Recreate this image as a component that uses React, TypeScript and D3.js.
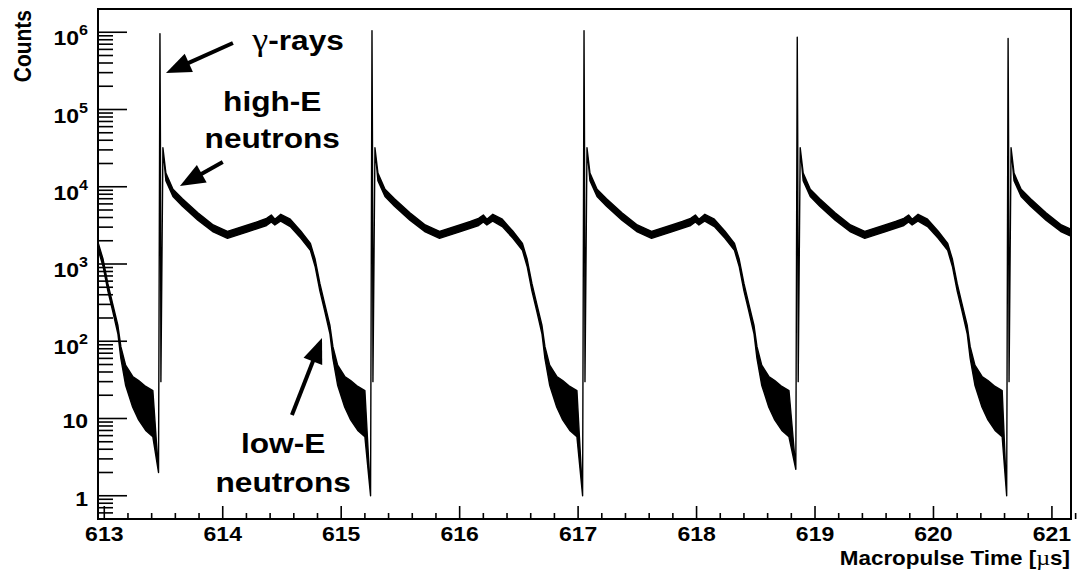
import { useEffect, useRef } from "react";
import * as d3 from "d3";

// axis ticks
const xTickValues = [613, 614, 615, 616, 617, 618, 619, 620, 621];
const yDecades = [1, 10, 100, 1e3, 1e4, 1e5, 1e6];
const yExponents = ["", "", "2", "3", "4", "5", "6"];

// gamma flash of every macropulse bunch (the first one is off the left edge)
const flashTimes = [611.68, 613.47, 615.26, 617.05, 618.85, 620.63];
const flashPeaks = [1.0e6, 9.6e5, 1.05e6, 1.05e6, 8.6e5, 8.3e5];
const preFlashDips = [2, 2, 1, 1, 2.2, 1];

// spikes right after the flash (dt in us after the flash)
const spikeDt = [0.004, 0.008, 0.025];
const spikeCounts = [4.0e4, 30, 3.2e4];

const profileDt = [0.05, 0.11, 0.19, 0.32, 0.45, 0.57, 0.74, 0.83, 0.9, 0.94, 0.97, 1.02, 1.1, 1.19, 1.27, 1.31, 1.35, 1.39, 1.435, 1.46, 1.5, 1.56, 1.61, 1.67, 1.73];
const profileLow = [1.2e4, 7.5e3, 5.6e3, 3.7e3, 2.6e3, 2.15e3, 2.6e3, 2.9e3, 3.15e3, 3.5e3, 3.2e3, 3.6e3, 3.05e3, 2.15e3, 1.5e3, 930, 450, 250, 125, 60, 27, 14, 9.6, 7, 5.8];
const profileHigh = [1.5e4, 9.3e3, 7.0e3, 4.6e3, 3.2e3, 2.65e3, 3.2e3, 3.55e3, 3.9e3, 4.3e3, 3.8e3, 4.4e3, 3.8e3, 2.65e3, 1.85e3, 1.15e3, 560, 310, 160, 85, 49, 35, 31, 26, 23];

// annotations, in data coordinates
const arrowTails = [[614.086, 7.26e5], [614.0, 2.09e4], [614.584, 11.1]];
const arrowTips = [[613.521, 2.97e5], [613.639, 1.02e4], [614.838, 110]];
const noteTexts = ["-rays", "high-E", "neutrons", "low-E", "neutrons"];
const noteGreek = ["γ", "", "", "", ""];
const noteAnchors = [[614.249, 5.9e5], [614.418, 9.6e4], [614.418, 3.18e4], [614.51, 3.57], [614.51, 1.12]];
const noteAlign = ["start", "middle", "middle", "middle", "middle"];

const FONT = "'Liberation Sans', Arial, Helvetica, sans-serif";
const SERIF = "'Liberation Serif', 'Times New Roman', serif";
const SX = 1.15; // the picture is a bit wider than tall

export default function App() {
  const ref = useRef<SVGSVGElement>(null);

  useEffect(() => {
    document.body.style.margin = "0";
    const svg = d3.select(ref.current);
    svg.selectAll("*").remove();

    const left = 98, right = 1071, top = 9, bottom = 519;
    const x = d3.scaleLinear().domain([612.947, 621.161]).range([left, right]);
    const y = d3.scaleLog().domain([0.5, 2e6]).range([bottom, top]);

    // build the histogram outline
    const pts: { t: number; lo: number; hi: number }[] = [];
    flashTimes.forEach((t0, i) => {
      pts.push({ t: t0 - 0.012, lo: preFlashDips[i], hi: preFlashDips[i] });
      pts.push({ t: t0, lo: flashPeaks[i], hi: flashPeaks[i] });
      spikeDt.forEach((d, j) => pts.push({ t: t0 + d, lo: spikeCounts[j], hi: spikeCounts[j] }));
      profileDt.forEach((d, j) => pts.push({ t: t0 + d, lo: profileLow[j], hi: profileHigh[j] }));
    });

    svg.append("defs").append("clipPath").attr("id", "plotClip")
      .append("rect").attr("x", left).attr("y", top).attr("width", right - left).attr("height", bottom - top);

    const area = d3.area<{ t: number; lo: number; hi: number }>()
      .x((d) => x(d.t))
      .y0((d) => y(d.lo))
      .y1((d) => y(d.hi));

    svg.append("path")
      .attr("clip-path", "url(#plotClip)")
      .attr("d", area(pts))
      .attr("fill", "#000")
      .attr("stroke", "#000")
      .attr("stroke-width", 1.4)
      .attr("stroke-linejoin", "round");

    // frame
    svg.append("rect")
      .attr("x", left).attr("y", top).attr("width", right - left).attr("height", bottom - top)
      .attr("fill", "none").attr("stroke", "#000").attr("stroke-width", 2);

    // y ticks
    const yMinor: number[] = [];
    for (let n = -1; n <= 6; n++) {
      for (let k = 2; k <= 9; k++) {
        const v = k * Math.pow(10, n);
        if (v > 0.5 && v < 2e6) yMinor.push(v);
      }
    }
    svg.append("g").selectAll("line").data(yMinor).enter().append("line")
      .attr("x1", left).attr("x2", left + 15)
      .attr("y1", (d) => y(d)).attr("y2", (d) => y(d))
      .attr("stroke", "#000").attr("stroke-width", 1.6);
    svg.append("g").selectAll("line").data(yDecades).enter().append("line")
      .attr("x1", left).attr("x2", left + 29)
      .attr("y1", (d) => y(d)).attr("y2", (d) => y(d))
      .attr("stroke", "#000").attr("stroke-width", 1.6);

    // y labels
    yDecades.forEach((v, i) => {
      const exp = yExponents[i];
      const g = svg.append("g")
        .attr("transform", `translate(88,${y(v) + (exp ? 13 : 10)}) scale(${SX},1)`);
      const t = g.append("text")
        .attr("text-anchor", "end")
        .attr("font-family", FONT).attr("font-weight", "bold").attr("font-size", 20);
      if (exp) {
        t.append("tspan").text("10");
        t.append("tspan").attr("dy", -10).attr("font-size", 14).text(exp);
      } else {
        t.text(v === 1 ? "1" : "10");
      }
    });

    // x ticks
    const xMinor = d3.range(613, 621.2, 0.2).filter((d) => Math.abs(d - Math.round(d)) > 0.01);
    svg.append("g").selectAll("line").data(xMinor).enter().append("line")
      .attr("x1", (d) => x(d)).attr("x2", (d) => x(d))
      .attr("y1", bottom).attr("y2", bottom - 6)
      .attr("stroke", "#000").attr("stroke-width", 1.6);
    svg.append("g").selectAll("line").data(xTickValues).enter().append("line")
      .attr("x1", (d) => x(d)).attr("x2", (d) => x(d))
      .attr("y1", bottom).attr("y2", bottom - 13)
      .attr("stroke", "#000").attr("stroke-width", 1.6);

    xTickValues.forEach((v) => {
      svg.append("g")
        .attr("transform", `translate(${x(v)},541) scale(${SX},1)`)
        .append("text")
        .attr("text-anchor", "middle")
        .attr("font-family", FONT).attr("font-weight", "bold").attr("font-size", 20)
        .text(String(v));
    });

    // axis titles
    const xt = svg.append("g")
      .attr("transform", `translate(1070,565) scale(${SX},1)`)
      .append("text")
      .attr("text-anchor", "end")
      .attr("font-family", FONT).attr("font-weight", "bold").attr("font-size", 19.5);
    xt.append("tspan").text("Macropulse Time [");
    xt.append("tspan").attr("font-family", SERIF).attr("font-weight", "normal").attr("font-size", 21).text("µ");
    xt.append("tspan").text("s]");

    svg.append("g")
      .attr("transform", `translate(31,10) scale(${SX},1) rotate(-90)`)
      .append("text")
      .attr("text-anchor", "end")
      .attr("font-family", FONT).attr("font-weight", "bold").attr("font-size", 21)
      .text("Counts");

    // arrows
    arrowTails.forEach((tail, i) => {
      const tip = arrowTips[i];
      const x1 = x(tail[0]), y1 = y(tail[1]);
      const x2 = x(tip[0]), y2 = y(tip[1]);
      const len = Math.hypot(x2 - x1, y2 - y1);
      const ux = (x2 - x1) / len, uy = (y2 - y1) / len;
      const headL = 25, headW = 10;
      const bx = x2 - ux * headL, by = y2 - uy * headL;
      svg.append("line")
        .attr("x1", x1).attr("y1", y1).attr("x2", bx + ux * 2).attr("y2", by + uy * 2)
        .attr("stroke", "#000").attr("stroke-width", 4);
      svg.append("path")
        .attr("d", `M${x2},${y2}L${bx - uy * headW},${by + ux * headW}L${bx + uy * headW},${by - ux * headW}Z`)
        .attr("fill", "#000");
    });

    // annotation texts
    noteTexts.forEach((txt, i) => {
      const a = noteAnchors[i];
      const t = svg.append("g")
        .attr("transform", `translate(${x(a[0])},${y(a[1])}) scale(1.13,1)`)
        .append("text")
        .attr("text-anchor", noteAlign[i])
        .attr("font-family", FONT).attr("font-weight", "bold").attr("font-size", 28);
      if (noteGreek[i]) {
        t.append("tspan").attr("font-family", SERIF).attr("font-weight", "normal").attr("font-size", 32).text(noteGreek[i]);
      }
      t.append("tspan").text(txt);
    });
  }, []);

  return <svg ref={ref} width={1077} height={575} style={{ display: "block", background: "#fff" }} />;
}
